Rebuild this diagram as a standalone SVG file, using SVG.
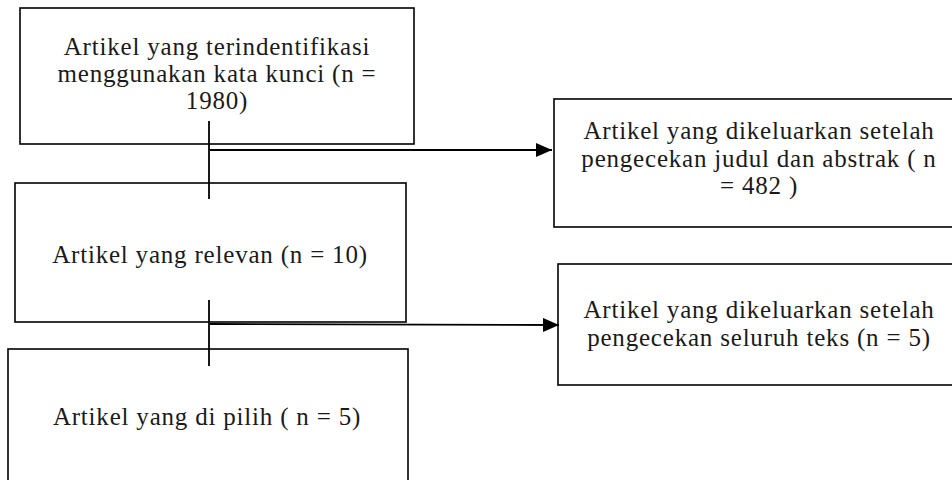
<svg xmlns="http://www.w3.org/2000/svg" width="952" height="480" viewBox="0 0 952 480">
<style>
.box{fill:#fff;stroke:#000;stroke-width:1.6}
.t{font-family:"Liberation Serif","Times New Roman",serif;font-size:25px;letter-spacing:0.8px;fill:#1a1a1a;text-anchor:middle}
.c{stroke:#000;stroke-width:1.8;fill:none}
</style>
<defs>
<marker id="ah2" viewBox="0 0 16 14" refX="16" refY="7" markerWidth="16" markerHeight="14" markerUnits="userSpaceOnUse" orient="auto">
<path d="M0,0 L16,7 L0,14 z" fill="#000"/>
</marker>
</defs>
<g id="n1">
<rect class="box" x="20" y="8" width="394" height="136"/>
<text class="t" x="217" y="55">Artikel yang terindentifikasi</text>
<text class="t" x="217" y="82">menggunakan kata kunci (n =</text>
<text class="t" x="217" y="109">1980)</text>
</g>
<g id="n2">
<rect class="box" x="15" y="183" width="391" height="139"/>
<text class="t" x="210" y="263">Artikel yang relevan (n = 10)</text>
</g>
<g id="n3">
<rect class="box" x="8" y="349" width="400" height="140"/>
<text class="t" x="207" y="425">Artikel yang di pilih ( n = 5)</text>
</g>
<g id="n4">
<rect class="box" x="554" y="99" width="410" height="128"/>
<text class="t" x="759" y="139">Artikel yang dikeluarkan setelah</text>
<text class="t" x="759" y="167">pengecekan judul dan abstrak ( n</text>
<text class="t" x="759" y="194">= 482 )</text>
</g>
<g id="n5">
<rect class="box" x="558" y="264" width="410" height="121"/>
<text class="t" x="759" y="318">Artikel yang dikeluarkan setelah</text>
<text class="t" x="759" y="346">pengecekan seluruh teks (n = 5)</text>
</g>
<g id="connectors">
<line class="c" x1="209" y1="121" x2="209" y2="199"/>
<line class="c" x1="210" y1="150" x2="552" y2="150" marker-end="url(#ah2)"/>
<line class="c" x1="209" y1="300" x2="209" y2="366"/>
<line class="c" x1="210" y1="324" x2="559" y2="325" marker-end="url(#ah2)"/>
</g>
</svg>
